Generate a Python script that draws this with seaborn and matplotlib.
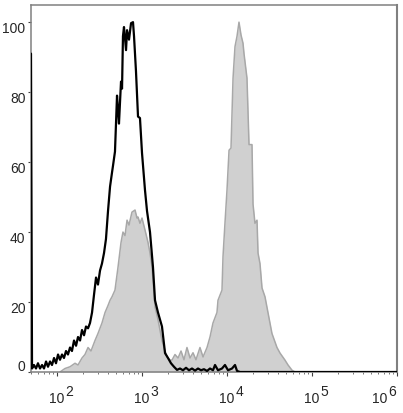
import matplotlib
matplotlib.use("Agg")
import matplotlib.pyplot as plt
import matplotlib.transforms as mtransforms
import numpy as np
import seaborn as sns

# control (isotype) histogram, black outline: log10 intensity, % of max
black_log = [1.694, 1.706, 1.729, 1.753, 1.776, 1.800, 1.824, 1.847, 1.871, 1.894,
             1.918, 1.941, 1.965, 1.988, 2.012, 2.035, 2.059, 2.082, 2.106, 2.129,
             2.153, 2.176, 2.200, 2.224, 2.247, 2.271, 2.294, 2.318, 2.341, 2.365,
             2.388, 2.412, 2.435, 2.459, 2.482, 2.506, 2.529, 2.553, 2.576, 2.600,
             2.624, 2.647, 2.659, 2.682, 2.706, 2.718, 2.729, 2.753, 2.765, 2.776,
             2.788, 2.812, 2.824, 2.847, 2.871, 2.894, 2.906, 2.929, 2.953, 2.976,
             3.000, 3.035, 3.059, 3.094, 3.129, 3.153, 3.188, 3.235, 3.271, 3.306,
             3.341, 3.376, 3.412, 3.447, 3.482, 3.518, 3.553, 3.588, 3.624, 3.659,
             3.694, 3.729, 3.765, 3.800, 3.835, 3.859, 3.894, 3.941, 3.976, 4.012,
             4.059, 4.094, 4.118, 4.153, 6.000]
black_pct = [91, 1, 2, 1, 2.5, 1, 2, 1, 3, 1.5,
             3, 2, 4, 2.5, 5, 3.5, 5, 4, 6, 5,
             7, 6, 9, 7.5, 10, 9, 12, 10.5, 13, 12.5,
             14, 17, 22, 27, 25, 29, 31, 34, 38, 46,
             53, 57, 59, 63, 79, 75, 71, 83, 81, 96,
             98.6, 92, 97.7, 95, 99.7, 100, 96, 86, 73, 72.6,
             62.6, 52, 46, 40, 30, 20.5, 17, 13, 5.4, 4,
             2.5, 1.5, 0.6, 1, 0.5, 1.2, 0.5, 1, 0.4, 1,
             0.5, 0.8, 0.3, 1, 0.5, 2, 0.5, 1, 2, 0.5,
             1, 2, 0.3, 0, 0]

# stained sample histogram, grey filled
gray_log = [2.035, 2.094, 2.153, 2.212, 2.247, 2.294, 2.329, 2.365, 2.400, 2.447,
            2.482, 2.529, 2.565, 2.600, 2.624, 2.647, 2.682, 2.718, 2.753, 2.776,
            2.800, 2.824, 2.847, 2.882, 2.918, 2.941, 2.953, 2.976, 3.000, 3.035,
            3.071, 3.094, 3.118, 3.153, 3.188, 3.235, 3.271, 3.294, 3.329, 3.353,
            3.388, 3.424, 3.459, 3.494, 3.529, 3.565, 3.600, 3.635, 3.682, 3.718,
            3.765, 3.800, 3.835, 3.882, 3.894, 3.941, 3.953, 3.976, 4.000, 4.024,
            4.047, 4.071, 4.094, 4.118, 4.141, 4.165, 4.188, 4.200, 4.235, 4.259,
            4.294, 4.306, 4.329, 4.353, 4.365, 4.388, 4.412, 4.447, 4.482, 4.529,
            4.588, 4.624, 4.682, 4.718, 4.765, 4.800]
gray_pct = [0, 1, 1.5, 2.5, 2, 4, 5, 7, 6, 9,
            11, 14, 17, 19, 20.5, 21.5, 23.4, 30, 37, 40,
            39, 43.4, 42, 45.7, 46.3, 44, 44.3, 42.5, 44, 40.6,
            37, 34, 30, 18.6, 15, 9, 6, 4.3, 3.4, 3.4,
            5, 4, 6, 3.5, 7, 4, 5.5, 3.5, 7, 4.3,
            7, 10, 14, 17, 20.5, 23.4, 33, 42.5, 52, 63.4,
            64, 84, 93, 96, 100, 96.3, 94, 91, 84, 65,
            65, 48, 42.5, 43.4, 34, 31, 24, 21.5, 17, 11,
            7, 5.4, 3.4, 2, 0.5, 0]

y_ticks = [0, 20, 40, 60, 80, 100]
x_decades = [2, 3, 4, 5, 6]

sns.set_style("ticks")
plt.rcParams['font.family'] = ['Liberation Sans', 'DejaVu Sans']

fig = plt.figure(figsize=(4.03, 4.13), dpi=100)
ax = fig.add_axes([31 / 403, 41 / 413, 366 / 403, 367 / 413])

gx = 10 ** np.array(gray_log)
bx = 10 ** np.array(black_log)

ax.fill_between(gx, gray_pct, color='#d0d0d0', lw=0, zorder=1)
sns.lineplot(x=gx, y=gray_pct, color='#a8a8a8', lw=1.1, sort=False,
             estimator=None, ax=ax, zorder=2)
sns.lineplot(x=bx, y=black_pct, color='black', lw=1.6, sort=False,
             estimator=None, ax=ax, zorder=3)

ax.set_xscale('log')
ax.set_xlim(10 ** 1.694, 10 ** 6)
ax.set_ylim(0, 104.9)
ax.set_xlabel('')
ax.set_ylabel('')

for side in ['top', 'right', 'left', 'bottom']:
    ax.spines[side].set_color('#808080')
    ax.spines[side].set_linewidth(1.1)
ax.spines['right'].set_linewidth(1.5)

ax.set_yticks(y_ticks)
ax.set_yticklabels([str(v) for v in y_ticks], fontsize=10)
ax.tick_params(axis='y', length=2.5, width=0.8, pad=1.5, color='#404040')
for lab in ax.get_yticklabels():
    dy = 5 / 72 if lab.get_text() == '0' else -4 / 72
    lab.set_transform(lab.get_transform() +
                      mtransforms.ScaledTranslation(0, dy, fig.dpi_scale_trans))

ax.set_xticks([10 ** d for d in x_decades])
ax.set_xticklabels([])
ax.xaxis.set_minor_locator(matplotlib.ticker.LogLocator(base=10, subs=np.arange(2, 10)))
ax.tick_params(axis='x', which='major', length=3, width=0.8, color='#404040')
ax.tick_params(axis='x', which='minor', length=1.6, width=0.6, color='#606060')

# "10" with a raised exponent under every decade
trans = mtransforms.blended_transform_factory(ax.transData, ax.transAxes)
for d in x_decades:
    shift = -17 if d == 6 else 0
    tb = mtransforms.offset_copy(trans, fig=fig, x=shift * 0.72, y=0, units='points')
    te = mtransforms.offset_copy(trans, fig=fig, x=(shift + 12) * 0.72, y=0, units='points')
    ax.text(10 ** d, -0.0736, '10', transform=tb, ha='center', va='center',
            fontsize=10, clip_on=False)
    ax.text(10 ** d, -0.0545, str(d), transform=te, ha='center', va='center',
            fontsize=10, clip_on=False)

fig.savefig('out.png', dpi=100)
